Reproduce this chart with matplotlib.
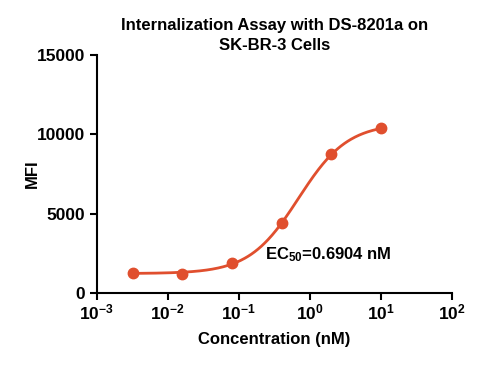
import numpy as np
import matplotlib
matplotlib.use('Agg')
from matplotlib import pyplot as plt

plt.rcParams['font.family'] = ['Liberation Sans', 'DejaVu Sans']
plt.rcParams['font.weight'] = 'bold'
plt.rcParams['mathtext.fontset'] = 'custom'
plt.rcParams['mathtext.rm'] = 'Liberation Sans:bold'
plt.rcParams['mathtext.bf'] = 'Liberation Sans:bold'
plt.rcParams['mathtext.it'] = 'Liberation Sans:bold'

# measured points (concentration in nM, MFI)
conc = [0.0032, 0.016, 0.08, 0.4, 2, 10]
mfi = [1260, 1220, 1890, 4410, 8760, 10400]

# 4PL fit parameters
bottom = 1230
top = 10700
ec50 = 0.6904
hill = 1.25

color = '#E04F2E'

fig = plt.figure(figsize=(5.02, 3.65), dpi=100)
ax = fig.add_axes([0.193, 0.197, 0.707, 0.652])

xs = np.logspace(np.log10(conc[0]), np.log10(conc[-1]), 300)
ys = bottom + (top - bottom) / (1 + (ec50 / xs) ** hill)
ax.plot(xs, ys, color=color, lw=2)
ax.plot(conc, mfi, 'o', color=color, ms=7.5)

ax.set_xscale('log')
ax.set_xlim(1e-3, 1e2)
ax.set_ylim(0, 15000)
ax.set_yticks([0, 5000, 10000, 15000])
ax.set_xticks([1e-3, 1e-2, 1e-1, 1e0, 1e1, 1e2])
ax.xaxis.set_minor_locator(matplotlib.ticker.NullLocator())

for s in ['top', 'right']:
    ax.spines[s].set_visible(False)
for s in ['left', 'bottom']:
    ax.spines[s].set_linewidth(1.5)
ax.tick_params(width=1.5, length=5, labelsize=12.5, direction='out')
ax.tick_params(axis='x', pad=2)

ax.set_xlabel('Concentration (nM)', fontsize=12, fontweight='bold', labelpad=7)
ax.set_ylabel('MFI', fontsize=12, fontweight='bold', labelpad=-2)
ax.set_title('Internalization Assay with DS-8201a on\nSK-BR-3 Cells',
             fontsize=12, fontweight='bold', pad=4, linespacing=1.4)

ax.text(0.235, 2400, r'EC$_{50}$=0.6904 nM', fontsize=12,
        fontweight='bold', va='center')

fig.savefig('out.png', dpi=100)
